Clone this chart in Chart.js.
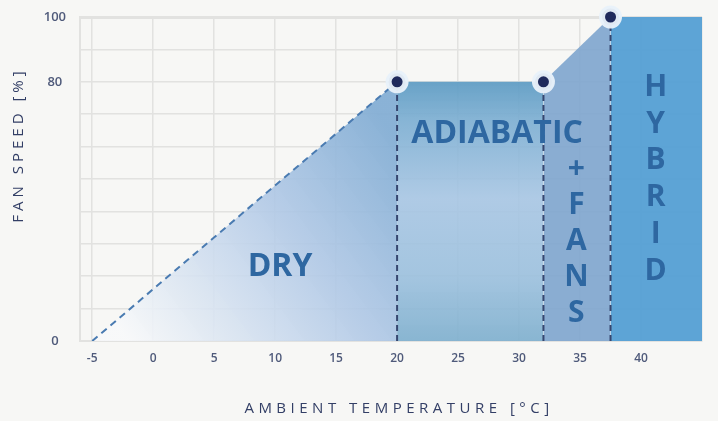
<!DOCTYPE html>
<html lang="en">
<head>
  <meta charset="UTF-8" />
  <title>Fan speed vs ambient temperature</title>
  <script src="https://cdn.jsdelivr.net/npm/chart.js"></script>
  <style>
    html, body { margin: 0; background: #f7f7f5; }
    canvas { display: block; }
  </style>
</head>
<body>
  <canvas id="grafico" width="718" height="421"></canvas>

  <script>
    // operating curve: ambient temperature (°C) -> fan speed (%)
    const dryTemp = [-5, 20];
    const drySpeed = [0, 80];
    const adiabaticTemp = [20, 32];
    const adiabaticSpeed = [80, 80];
    const fansTemp = [32, 37.5];
    const fansSpeed = [80, 100];
    const hybridTemp = [37.5, 45];
    const hybridSpeed = [100, 100];

    // switch points between the modes
    const switchTemp = [20, 32, 37.5];
    const switchSpeed = [80, 80, 100];

    // labelled ticks
    const xTickLabels = [-5, 0, 5, 10, 15, 20, 25, 30, 35, 40];
    const yTickLabels = [0, 80, 100];

    const pts = (xs, ys) => xs.map((x, i) => ({ x, y: ys[i] }));

    // gradient of the dry zone, white at the bottom left, blue towards the top right
    function dryFill(c) {
      const chart = c.chart;
      if (!chart.chartArea) return '#c4d6ea';
      const x = chart.scales.x, y = chart.scales.y;
      const g = chart.ctx.createLinearGradient(
        x.getPixelForValue(-2), y.getPixelForValue(0),
        x.getPixelForValue(20), y.getPixelForValue(62));
      g.addColorStop(0, 'rgba(247,248,250,0.9)');
      g.addColorStop(0.6, 'rgba(176,200,229,0.92)');
      g.addColorStop(1, 'rgba(132,174,212,0.95)');
      return g;
    }

    // adiabatic zone: darker band at the top and bottom
    function adiabaticFill(c) {
      const chart = c.chart;
      if (!chart.chartArea) return '#9cc0dc';
      const y = chart.scales.y;
      const g = chart.ctx.createLinearGradient(0, y.getPixelForValue(80), 0, y.getPixelForValue(0));
      g.addColorStop(0, 'rgba(96,157,196,0.95)');
      g.addColorStop(0.15, 'rgba(126,175,210,0.93)');
      g.addColorStop(0.45, 'rgba(168,198,227,0.92)');
      g.addColorStop(0.75, 'rgba(156,192,221,0.92)');
      g.addColorStop(1, 'rgba(128,176,206,0.93)');
      return g;
    }

    // words inside the zones
    const rotulos = {
      id: 'rotulos',
      afterDatasetsDraw(chart) {
        const { ctx, scales: { x, y } } = chart;
        ctx.save();
        ctx.fillStyle = '#2e67a1';
        ctx.textAlign = 'center';
        ctx.textBaseline = 'alphabetic';
        ctx.font = 'bold 32px "Open Sans"';
        ctx.fillText('DRY', x.getPixelForValue(10.4), y.getPixelForValue(20.1));
        ctx.fillText('ADIABATIC', x.getPixelForValue(28.2), y.getPixelForValue(61.1));
        ctx.font = 'bold 30px "Open Sans"';
        const fy = y.getPixelForValue(50.3);
        '+FANS'.split('').forEach((ch, i) => ctx.fillText(ch, x.getPixelForValue(34.7), fy + i * 36));
        const hy = y.getPixelForValue(75.6);
        'HYBRID'.split('').forEach((ch, i) => ctx.fillText(ch, x.getPixelForValue(41.2), hy + i * 36.7));
        ctx.restore();
      }
    };

    // axis titles with wide letter spacing
    const titulos = {
      id: 'titulos',
      afterDraw(chart) {
        const ctx = chart.ctx;
        ctx.save();
        ctx.fillStyle = '#333f66';
        ctx.font = '15px "Open Sans"';
        ctx.letterSpacing = '4.5px';
        ctx.textAlign = 'center';
        ctx.fillText('AMBIENT TEMPERATURE [°C]', 399, 413);
        ctx.letterSpacing = '4px';
        ctx.translate(23, 145);
        ctx.rotate(-Math.PI / 2);
        ctx.fillText('FAN SPEED [%]', 0, 0);
        ctx.restore();
      }
    };

    const corGrade = '#e2e2e0';
    const corTick = '#4f5a7a';

    new Chart(document.getElementById('grafico'), {
      type: 'line',
      data: {
        datasets: [
          {
            data: pts(switchTemp, switchSpeed),
            showLine: false,
            pointRadius: 8.5,
            pointBackgroundColor: '#1f2a5c',
            pointBorderColor: 'rgba(232,241,250,0.96)',
            pointBorderWidth: 6,
            order: 0,
            clip: false
          },
          ...switchTemp.map((t, i) => ({
            data: [{ x: t, y: 0 }, { x: t, y: switchSpeed[i] }],
            borderColor: '#36466f',
            borderWidth: 2,
            borderDash: [6, 4],
            pointRadius: 0,
            fill: false,
            order: 1
          })),
          {
            data: pts(dryTemp, drySpeed),
            borderColor: '#4a7bb1',
            borderWidth: 2,
            borderDash: [7, 5],
            backgroundColor: dryFill,
            fill: 'origin',
            pointRadius: 0,
            order: 2
          },
          {
            data: pts(adiabaticTemp, adiabaticSpeed),
            borderWidth: 0,
            backgroundColor: adiabaticFill,
            fill: 'origin',
            pointRadius: 0,
            order: 2
          },
          {
            data: pts(fansTemp, fansSpeed),
            borderWidth: 0,
            backgroundColor: 'rgba(128,166,206,0.92)',
            fill: 'origin',
            pointRadius: 0,
            order: 2
          },
          {
            data: pts(hybridTemp, hybridSpeed),
            borderWidth: 0,
            backgroundColor: 'rgba(86,160,212,0.96)',
            fill: 'origin',
            pointRadius: 0,
            order: 2
          }
        ]
      },
      options: {
        responsive: false,
        devicePixelRatio: 1,
        animation: false,
        layout: { autoPadding: false, padding: { left: 0, top: 17, right: 16, bottom: 0 } },
        plugins: { legend: { display: false }, tooltip: { enabled: false } },
        elements: { line: { tension: 0 } },
        scales: {
          x: {
            type: 'linear',
            min: -6,
            max: 45,
            afterFit: s => { s.height = 80; },
            border: { color: corGrade, width: 2 },
            grid: { color: corGrade, lineWidth: 1.5, drawTicks: false },
            ticks: {
              stepSize: 5,
              includeBounds: false,
              padding: 10,
              color: corTick,
              font: { family: '"Open Sans"', size: 12, weight: '600' },
              callback: v => xTickLabels.includes(v) ? String(v) : ''
            }
          },
          y: {
            min: 0,
            max: 100,
            afterFit: s => { s.width = 80; },
            border: { color: corGrade, width: 2 },
            grid: {
              color: corGrade,
              lineWidth: c => c.tick && c.tick.value === 100 ? 3 : 1.5,
              drawTicks: true,
              tickLength: 5,
              tickColor: 'rgba(0,0,0,0)'
            },
            ticks: {
              stepSize: 10,
              padding: 9,
              crossAlign: 'center',
              color: corTick,
              font: { family: '"Open Sans"', size: 13, weight: '600' },
              callback: v => yTickLabels.includes(v) ? String(v) : ''
            }
          }
        }
      },
      plugins: [rotulos, titulos]
    });
  </script>
</body>
</html>
